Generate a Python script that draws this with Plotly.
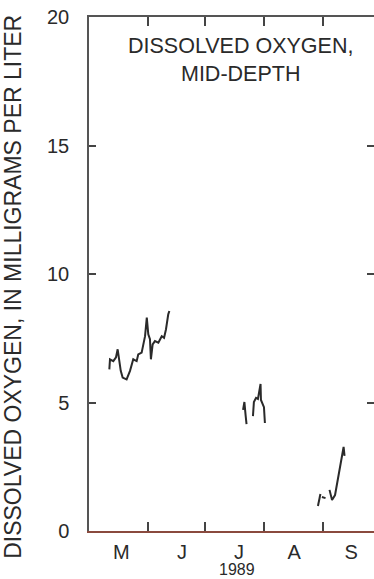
import plotly.graph_objects as go

# ---- data ----
may_jun_dates = [
    "1989-05-11 17:00", "1989-05-12 01:00", "1989-05-13 19:00", "1989-05-15 05:00",
    "1989-05-16 02:00", "1989-05-16 22:00", "1989-05-17 17:00", "1989-05-18 17:00",
    "1989-05-20 19:00", "1989-05-22 14:00", "1989-05-23 12:00", "1989-05-24 07:00",
    "1989-05-26 02:00", "1989-05-26 22:00", "1989-05-28 17:00", "1989-05-30 12:00",
    "1989-05-31 10:00", "1989-06-01 05:00", "1989-06-02 02:00", "1989-06-02 14:00",
    "1989-06-03 12:00", "1989-06-04 17:00", "1989-06-06 12:00", "1989-06-08 07:00",
    "1989-06-09 12:00", "1989-06-10 12:00", "1989-06-11 17:00", "1989-06-12 07:00",
]
may_jun_do = [
    6.29, 6.68, 6.61, 6.76, 7.07, 6.68, 6.23, 5.97,
    5.90, 6.23, 6.49, 6.68, 6.61, 6.87, 6.94, 7.58,
    8.30, 7.65, 7.46, 6.68, 7.26, 7.39, 7.33, 7.58,
    7.52, 7.84, 8.43, 8.56,
]

jul_dates = [
    "1989-07-21 02:00", "1989-07-21 19:00", "1989-07-22 10:00", "1989-07-22 22:00",
    None,
    "1989-07-26 07:00", "1989-07-26 19:00", "1989-07-27 22:00", "1989-07-28 22:00",
    "1989-07-30 07:00", "1989-07-30 12:00", "1989-08-01 02:00", "1989-08-01 14:00",
]
jul_do = [4.71, 5.02, 4.51, 4.16, None, 4.47, 5.02, 5.18, 5.14, 5.72, 5.10, 4.82, 4.20]

sep_dates = [
    "1989-08-29 12:00", "1989-08-30 19:00", None,
    "1989-08-31 14:00", "1989-09-02 12:00", None,
    "1989-09-04 14:00", "1989-09-05 22:00", "1989-09-07 12:00", "1989-09-11 05:00",
    "1989-09-12 00:00", "1989-09-12 12:00",
]
sep_do = [0.97, 1.44, None, 1.32, 1.28, None, 1.60, 1.21, 1.40, 2.88, 3.27, 2.92]

month_starts = ["1989-06-01", "1989-07-01", "1989-08-01", "1989-09-01"]
month_label_dates = ["1989-05-18", "1989-06-19", "1989-07-19", "1989-08-17", "1989-09-16"]
month_labels = ["M", "J", "J", "A", "S"]
y_ticks = [0, 5, 10, 15, 20]
x_range = ["1989-05-01", "1989-09-28"]

FONT = "Liberation Sans, Arial, sans-serif"
TXT = "#2a2a2a"
LINE = "#2a2a2a"

fig = go.Figure()
for xs, ys in [(may_jun_dates, may_jun_do), (jul_dates, jul_do), (sep_dates, sep_do)]:
    fig.add_trace(go.Scatter(x=xs, y=ys, mode="lines", connectgaps=False,
                             line=dict(color=LINE, width=2), showlegend=False,
                             hoverinfo="skip"))
# invisible trace to anchor the label axis
fig.add_trace(go.Scatter(x=x_range, y=[None, None], xaxis="x2", mode="lines",
                         showlegend=False, hoverinfo="skip"))

fig.update_layout(
    width=374, height=579,
    margin=dict(l=89, r=0, t=17, b=48, autoexpand=False),
    paper_bgcolor="white", plot_bgcolor="white",
    font=dict(family=FONT, color=TXT, size=20),
    xaxis=dict(
        type="date", range=x_range, tickmode="array", tickvals=month_starts,
        showticklabels=False, ticks="inside", ticklen=9, tickwidth=1.5,
        tickcolor="#444444", showline=True, linecolor="#555555", linewidth=1.5,
        mirror="ticks", showgrid=False, zeroline=False, automargin=False,
    ),
    xaxis2=dict(
        type="date", range=x_range, overlaying="x", side="bottom",
        tickmode="array", tickvals=month_label_dates, ticktext=month_labels,
        ticks="outside", ticklen=2, tickcolor="rgba(0,0,0,0)",
        showline=True, linecolor="#8a4a3e", linewidth=2,
        showgrid=False, zeroline=False, automargin=False,
        tickfont=dict(family=FONT, size=20, color=TXT),
    ),
    yaxis=dict(
        range=[0, 20], tickmode="array", tickvals=y_ticks,
        ticks="inside", ticklen=7, tickwidth=1.5, tickcolor="#444444",
        showline=True, linecolor="#555555", linewidth=1.5, mirror="ticks",
        showgrid=False, zeroline=False, ticklabelstandoff=14, automargin=False,
        tickfont=dict(family=FONT, size=20, color=TXT),
    ),
    annotations=[
        dict(text="DISSOLVED OXYGEN,<br>MID-DEPTH", xref="paper", yref="paper",
             x=0.5316, y=0.9155, xanchor="center", yanchor="middle",
             showarrow=False, font=dict(family=FONT, size=21.5, color=TXT)),
        dict(text="DISSOLVED OXYGEN, IN MILLIGRAMS PER LITER", xref="paper", yref="paper",
             x=-0.2667, y=0.475, xanchor="center", yanchor="middle", textangle=-90,
             showarrow=False, font=dict(family=FONT, size=23, color=TXT)),
        dict(text="1989", xref="paper", yref="paper", x=0.52, y=-0.074,
             xanchor="center", yanchor="middle", showarrow=False,
             font=dict(family=FONT, size=16, color=TXT)),
    ],
)

fig.write_html("out.html", config={"displayModeBar": False},
               post_script="document.body.style.margin='0';")
